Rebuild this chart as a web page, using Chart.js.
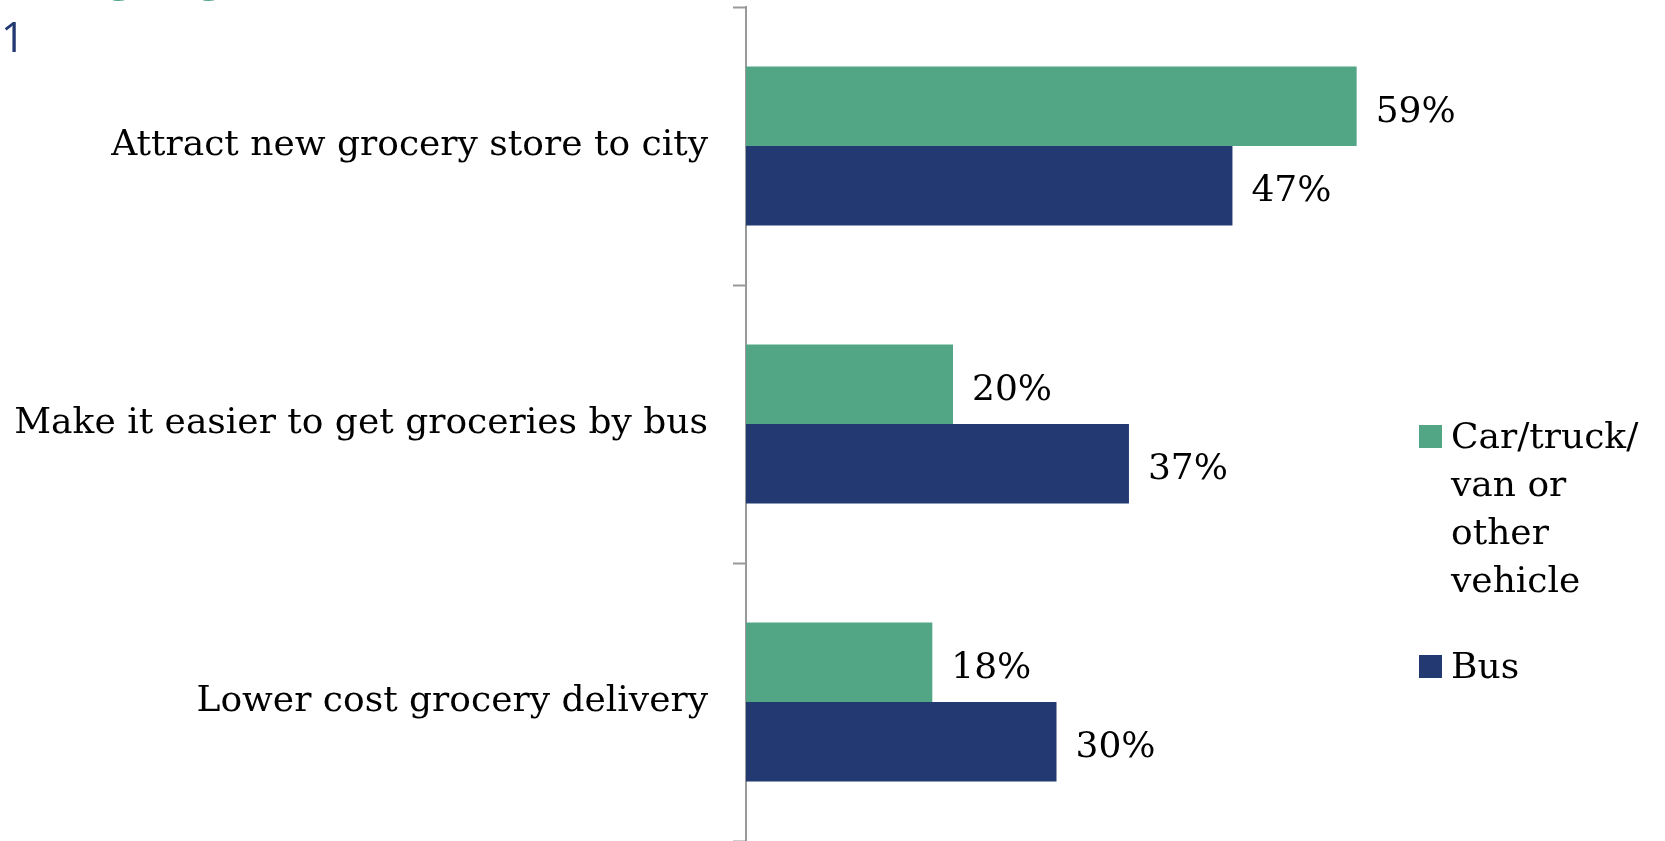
<!DOCTYPE html>
<html>
<head>
<meta charset="utf-8">
<script src="https://cdn.jsdelivr.net/npm/chart.js@4.4.0/dist/chart.umd.min.js"></script>
<style>
  html, body { margin: 0; padding: 0; background: #fff; }
  #wrap { width: 1665px; height: 841px; position: relative; }
</style>
</head>
<body>
<div id="wrap"><canvas id="chart"></canvas></div>
<script>
// Chart data
const categories = ['Attract new grocery store to city', 'Make it easier to get groceries by bus', 'Lower cost grocery delivery'];
const carValues = [59, 20, 18];
const busValues = [47, 37, 30];
const seriesNames = ['Car/truck/ van or other vehicle', 'Bus'];
const legendLines = [['Car/truck/', 'van or', 'other', 'vehicle'], ['Bus']];

const GREEN = '#52a585';
const NAVY = '#233972';
const SERIF = '"DejaVu Serif", "Liberation Serif", serif';
const FONT_SIZE = 36;

// value labels to the right of each bar
const valueLabels = {
  id: 'valueLabels',
  afterDatasetsDraw(chart) {
    const ctx = chart.ctx;
    ctx.save();
    ctx.font = FONT_SIZE + 'px ' + SERIF;
    ctx.fillStyle = '#000';
    ctx.textBaseline = 'middle';
    ctx.textAlign = 'left';
    chart.data.datasets.forEach((ds, i) => {
      chart.getDatasetMeta(i).data.forEach((bar, j) => {
        ctx.fillText(ds.data[j] + '%', bar.x + 19, bar.y + 6);
      });
    });
    ctx.restore();
  }
};

// legend drawn at the right, with wrapped text
const sideLegend = {
  id: 'sideLegend',
  afterDraw(chart) {
    const ctx = chart.ctx;
    const colors = [GREEN, NAVY];
    const tops = [436, 666];
    ctx.save();
    ctx.font = FONT_SIZE + 'px ' + SERIF;
    ctx.textBaseline = 'middle';
    legendLines.forEach((lines, i) => {
      ctx.fillStyle = colors[i];
      ctx.fillRect(1419, tops[i] - 11, 23, 23);
      ctx.fillStyle = '#000';
      lines.forEach((t, k) => ctx.fillText(t, 1451, tops[i] + 3 + k * 48));
    });
    // cropped title remnants at the top left
    ctx.font = '42px "Open Sans", sans-serif';
    ctx.fillStyle = NAVY;
    ctx.textAlign = 'left';
    ctx.textBaseline = 'alphabetic';
    ctx.fillText('1', 1, 52);
    ctx.fillStyle = GREEN;
    ctx.textAlign = 'center';
    ctx.fillText('g', 120, -9);
    ctx.fillText('g', 210, -9);
    ctx.restore();
  }
};

const ctx = document.getElementById('chart').getContext('2d');
new Chart(ctx, {
  type: 'bar',
  data: {
    labels: categories,
    datasets: [
      { label: seriesNames[0], data: carValues, backgroundColor: GREEN },
      { label: seriesNames[1], data: busValues, backgroundColor: NAVY }
    ]
  },
  options: {
    indexAxis: 'y',
    responsive: true,
    maintainAspectRatio: false,
    animation: false,
    categoryPercentage: 0.572,
    barPercentage: 1,
    layout: { padding: { top: 7, right: 298, bottom: 0, left: 0 } },
    scales: {
      x: {
        display: false,
        min: 0,
        max: 60
      },
      y: {
        afterFit: (scale) => {
          scale.width = 746;
          scale.paddingTop = 0;
          scale.paddingBottom = 0;
        },
        grid: {
          drawOnChartArea: false,
          drawTicks: true,
          tickLength: 13,
          tickWidth: 2,
          color: '#999'
        },
        border: { display: true, color: '#999', width: 2 },
        ticks: {
          padding: 25,
          color: '#000',
          font: { family: SERIF, size: FONT_SIZE }
        }
      }
    },
    plugins: {
      legend: { display: false },
      tooltip: { enabled: false }
    }
  },
  plugins: [valueLabels, sideLegend]
});
</script>
</body>
</html>
